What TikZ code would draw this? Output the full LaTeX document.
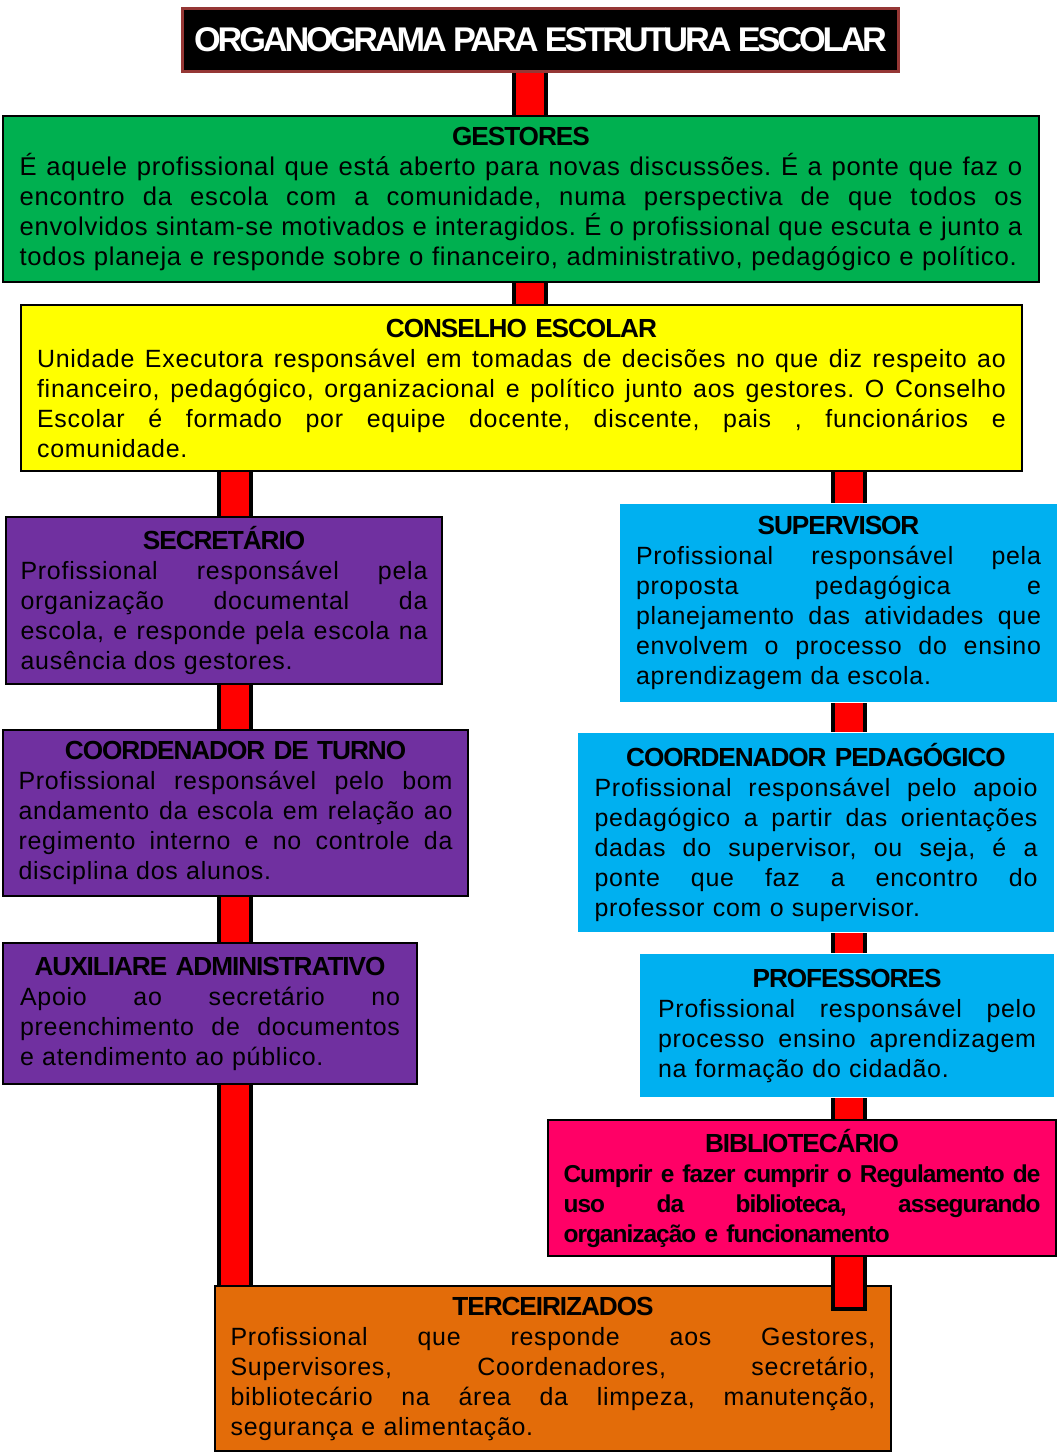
\documentclass[tikz,border=0pt]{standalone}
\usepackage{fontspec}
\setmainfont{Liberation Sans}
\newfontfamily\bodyfont[LetterSpace=3]{Liberation Sans}
\newfontfamily\headfont[LetterSpace=-4]{Liberation Sans}
\newfontfamily\titlefont[LetterSpace=-9]{Liberation Sans}

\definecolor{gestgreen}{HTML}{00B050}
\definecolor{conselhoyellow}{HTML}{FFFF00}
\definecolor{adminpurple}{HTML}{7030A0}
\definecolor{pedcyan}{HTML}{00B0F0}
\definecolor{bibpink}{HTML}{FF0066}
\definecolor{tercorange}{HTML}{E36C09}
\definecolor{titlebrown}{HTML}{953735}
\definecolor{barred}{HTML}{FF0000}

% one justified line, one last line, one heading line
\newcommand{\jl}[1]{\makebox[\linewidth][s]{\spaceskip=.3em plus 3em minus .06em\relax#1}\\}
\newcommand{\el}[1]{\makebox[\linewidth][l]{#1}}
\newcommand{\hd}[1]{{\headfont\bfseries\fontsize{14.9}{17.07}\selectfont #1}\\}

\begin{document}
\begin{tikzpicture}[
  x=0.02cm, y=-0.02cm,
  box/.style={draw=black,line width=1.2pt,anchor=north west,inner sep=0pt,align=center,
    font=\bodyfont\fontsize{14.2}{17.07}\selectfont\frenchspacing},
  cyanbox/.style={box,draw=none,fill=pedcyan},
  purplebox/.style={box,fill=adminpurple},
  titlebox/.style={draw=titlebrown,line width=1.8pt,fill=black,text=white,anchor=north west,inner sep=0pt,
    font=\titlefont\bfseries\fontsize{19.5}{21}\selectfont},
  bar/.style={draw=barred,line width=.56cm,preaction={draw=black,line width=.72cm}},
  barend/.style={draw=barred,line width=.56cm,preaction={draw=black,line width=.72cm,shorten >=-.08cm}}
]
\useasboundingbox (0,0) rectangle (1057,1453);

\node[titlebox,minimum width=14.32cm,minimum height=1.26cm] (titulo) at (181,7) {ORGANOGRAMA PARA ESTRUTURA ESCOLAR};

\node[box,fill=gestgreen,minimum width=20.72cm,minimum height=3.32cm,text width=20.06cm,
  font=\bodyfont\fontsize{14.6}{17.07}\selectfont\frenchspacing] (gestores) at (2,115) {%
  \hd{GESTORES}%
  \jl{É aquele profissional que está aberto para novas discussões. É a ponte que faz o}%
  \jl{encontro da escola com a comunidade, numa perspectiva de que todos os}%
  \jl{envolvidos sintam-se motivados e interagidos. É o profissional que escuta e junto a}%
  \el{todos planeja e responde sobre o financeiro, administrativo, pedagógico e político.}};

\node[box,fill=conselhoyellow,minimum width=20.02cm,minimum height=3.32cm,text width=19.38cm] (conselho) at (20,304) {%
  \hd{CONSELHO ESCOLAR}%
  \jl{Unidade Executora responsável em tomadas de decisões no que diz respeito ao}%
  \jl{financeiro, pedagógico, organizacional e político junto aos gestores. O Conselho}%
  \jl{Escolar é formado por equipe docente, discente, pais , funcionários e}%
  \el{comunidade.}};

% left column
\node[purplebox,minimum width=8.72cm,minimum height=3.34cm,text width=8.14cm] (secretario) at (5,516) {%
  \hd{SECRETÁRIO}%
  \jl{Profissional responsável pela}%
  \jl{organização documental da}%
  \jl{escola, e responde pela escola na}%
  \el{ausência dos gestores.}};

\node[purplebox,minimum width=9.30cm,minimum height=3.32cm,text width=8.68cm] (turno) at (2,729) {%
  \hd{COORDENADOR DE TURNO}%
  \jl{Profissional responsável pelo bom}%
  \jl{andamento da escola em relação ao}%
  \jl{regimento interno e no controle da}%
  \el{disciplina dos alunos.}};

\node[purplebox,minimum width=8.28cm,minimum height=2.82cm,text width=7.60cm] (auxiliar) at (2,942) {%
  \hd{AUXILIARE ADMINISTRATIVO}%
  \jl{Apoio ao secretário no}%
  \jl{preenchimento de documentos}%
  \el{e atendimento ao público.}};

% right column
\node[cyanbox,minimum width=8.74cm,minimum height=3.96cm,text width=8.10cm] (supervisor) at (619,503) {%
  \hd{SUPERVISOR}%
  \jl{Profissional responsável pela}%
  \jl{proposta pedagógica e}%
  \jl{planejamento das atividades que}%
  \jl{envolvem o processo do ensino}%
  \el{aprendizagem da escola.}};

\node[cyanbox,minimum width=9.52cm,minimum height=3.98cm,text width=8.86cm] (pedagogico) at (577,732) {%
  \hd{COORDENADOR PEDAGÓGICO}%
  \jl{Profissional responsável pelo apoio}%
  \jl{pedagógico a partir das orientações}%
  \jl{dadas do supervisor, ou seja, é a}%
  \jl{ponte que faz a encontro do}%
  \el{professor com o supervisor.}};

\node[cyanbox,minimum width=8.28cm,minimum height=2.86cm,text width=7.56cm] (professores) at (639,953) {%
  \hd{PROFESSORES}%
  \jl{Profissional responsável pelo}%
  \jl{processo ensino aprendizagem}%
  \el{na formação do cidadão.}};

\node[box,fill=bibpink,minimum width=10.16cm,minimum height=2.72cm,text width=9.54cm] (bibliotecario) at (547,1119) {%
  \hd{BIBLIOTECÁRIO}%
  {\headfont\bfseries\fontsize{13.9}{17.07}\selectfont
  \jl{Cumprir e fazer cumprir o Regulamento de}%
  \jl{uso da biblioteca, assegurando}%
  \el{organização e funcionamento}}};

\node[box,fill=tercorange,minimum width=13.52cm,minimum height=3.30cm,text width=12.90cm] (terceirizados) at (214,1285) {%
  \hd{TERCEIRIZADOS}%
  \jl{Profissional que responde aos Gestores,}%
  \jl{Supervisores, Coordenadores, secretário,}%
  \jl{bibliotecário na área da limpeza, manutenção,}%
  \el{segurança e alimentação.}};

% connectors
\coordinate (cx) at (530,0);
\coordinate (lx) at (235,0);
\coordinate (rx) at (849,0);
\coordinate (rend) at (849,1307);
\foreach \a/\b in {titulo/gestores,gestores/conselho}
  \draw[bar] (\a.south -| cx) -- (\b.north -| cx);
\foreach \a/\b in {conselho/secretario,secretario/turno,turno/auxiliar,auxiliar/terceirizados}
  \draw[bar] (\a.south -| lx) -- (\b.north -| lx);
\foreach \a/\b in {conselho/supervisor,supervisor/pedagogico,pedagogico/professores,professores/bibliotecario}
  \draw[bar] (\a.south -| rx) -- (\b.north -| rx);
\draw[barend] (bibliotecario.south -| rx) -- (rend);
\end{tikzpicture}
\end{document}
